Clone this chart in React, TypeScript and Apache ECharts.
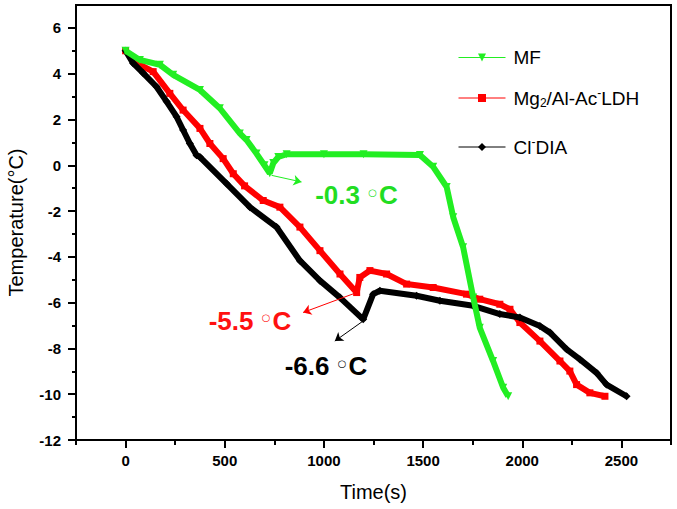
import React, { useEffect, useRef } from "react";
import * as echarts from "echarts";

// ---- data ----
const mfTime = [0, 72, 173, 240, 375, 475, 576, 610, 660, 700, 727, 745, 770, 812, 1000, 1200, 1484, 1551, 1619, 1652, 1702, 1753, 1786, 1853, 1904, 1929];
const mfTemp = [5, 4.6, 4.39, 3.95, 3.29, 2.49, 1.39, 1.1, 0.51, 0.0, -0.35, 0.1, 0.36, 0.48, 0.48, 0.48, 0.45, -0.07, -0.95, -2.27, -3.58, -5.78, -7.1, -8.55, -9.72, -10.09];

const ldhTime = [0, 72, 139, 223, 290, 375, 425, 492, 543, 600, 694, 778, 879, 980, 1081, 1165, 1181, 1232, 1316, 1417, 1551, 1719, 1786, 1887, 1938, 1988, 2089, 2190, 2240, 2274, 2341, 2417];
const ldhTemp = [5, 4.39, 4.09, 3.14, 2.41, 1.61, 0.95, 0.29, -0.37, -0.9, -1.54, -1.83, -2.7, -3.73, -4.75, -5.56, -4.9, -4.6, -4.75, -5.19, -5.34, -5.63, -5.85, -6.07, -6.29, -6.87, -7.68, -8.55, -8.99, -9.58, -9.94, -10.09];

const diaTime = [0, 38, 89, 156, 207, 257, 290, 324, 358, 375, 509, 627, 761, 879, 980, 1081, 1198, 1248, 1282, 1467, 1585, 1753, 1887, 1988, 2089, 2140, 2224, 2291, 2375, 2425, 2526];
const diaTemp = [5, 4.46, 4.02, 3.43, 2.78, 2.12, 1.54, 0.95, 0.44, 0.36, -0.8, -1.83, -2.7, -4.17, -5.04, -5.78, -6.73, -5.63, -5.48, -5.7, -5.92, -6.14, -6.5, -6.65, -7.02, -7.31, -8.04, -8.48, -9.07, -9.58, -10.09];

const seriesNames = ["MF", "Mg2/Al-Ac-LDH", "Cl-DIA"];

const xMajorTicks = [0, 500, 1000, 1500, 2000, 2500];
const xMinorTicks = [-250, 250, 750, 1250, 1750, 2250, 2750];
const yMajorTicks = [-12, -10, -8, -6, -4, -2, 0, 2, 4, 6];
const yMinorTicks = [-11, -9, -7, -5, -3, -1, 1, 3, 5];

// annotation labels (value text, label centre, arrow start, arrow end) in data units
const annoText = ["-0.3", "-5.5", "-6.6"];
const annoAt = [[1164, -1.32], [627, -6.8], [1010, -8.77]];
const annoFrom = [[736, -0.44], [1165, -5.56], [1198, -6.8]];
const annoTo = [[887, -0.73], [895, -6.43], [1055, -7.68]];

const colors = ["#22ee22", "#ff0000", "#000000"];
const textColors = ["#22dd22", "#ff1111", "#000000"];

const FONT = "'Liberation Sans', Arial, sans-serif";

function zip(a: number[], b: number[]) {
  return a.map((v, i) => [v, b[i]]);
}

export default function App() {
  const ref = useRef<HTMLDivElement>(null);
  useEffect(() => {
    if (!ref.current) return;
    const chart = echarts.init(ref.current, null, { renderer: "svg" });
    const data = [zip(mfTime, mfTemp), zip(ldhTime, ldhTemp), zip(diaTime, diaTemp)];
    const symbols = ["triangle", "rect", "diamond"];
    const symbolSizes = [8, 7, 8];
    const rotates = [180, 0, 0];
    const zs = [4, 2, 3];

    const series: any[] = data.map((d, i) => ({
      name: seriesNames[i],
      type: "line",
      data: d,
      z: zs[i],
      xAxisIndex: 0,
      yAxisIndex: 0,
      symbol: symbols[i],
      symbolSize: symbolSizes[i],
      symbolRotate: rotates[i],
      showSymbol: true,
      lineStyle: { color: colors[i], width: 6 },
      itemStyle: { color: colors[i] },
      markLine: {
        silent: true,
        symbol: ["none", "arrow"],
        symbolSize: 8,
        lineStyle: { color: colors[i], width: 1, type: "solid" },
        label: { show: false },
        data: [[{ coord: annoFrom[i] }, { coord: annoTo[i] }]],
      },
      markPoint: {
        silent: true,
        symbol: "circle",
        symbolSize: 1,
        itemStyle: { color: "rgba(0,0,0,0)" },
        data: [
          {
            coord: annoAt[i],
            label: {
              show: true,
              position: "inside",
              formatter: "{a|" + annoText[i] + " }{d|○}{a|C}",
              rich: {
                a: { fontSize: 26, fontWeight: "bold", color: textColors[i], fontFamily: FONT },
                d: { fontSize: 10, fontWeight: "normal", color: textColors[i], fontFamily: "'DejaVu Sans'", padding: [0, 2, 6, 1] },
              },
            },
          },
        ],
      },
    }));

    const legendCommon = {
      orient: "vertical",
      left: 453,
      itemWidth: 47,
      itemHeight: 10,
      lineStyle: { width: 1 },
      textStyle: {
        fontSize: 19,
        fontFamily: FONT,
        color: "#000",
        padding: [0, 0, 0, 3],
        rich: {
          sub: { fontSize: 12, fontFamily: FONT, padding: [10, 0, 0, 0] },
          sup: { fontSize: 12, fontFamily: FONT, padding: [0, 0, 10, 0] },
        },
      },
      formatter: (name: string) => {
        if (name === seriesNames[1]) return "Mg{sub|2}/Al-Ac{sup|-}LDH";
        if (name === seriesNames[2]) return "Cl{sup|-}DIA";
        return name;
      },
    };

    const tickLabel = {
      fontSize: 15,
      fontWeight: "bold",
      fontFamily: FONT,
      color: "#000",
      formatter: (v: number) => String(v),
    };

    chart.setOption({
      animation: false,
      backgroundColor: "#fff",
      grid: {
        left: 76,
        right: 6,
        top: 5,
        bottom: 69,
        show: true,
        borderColor: "#000",
        borderWidth: 2,
        containLabel: false,
        outerBoundsMode: "none",
      },
      legend: [
        { ...legendCommon, data: [seriesNames[0]], top: 43 },
        { ...legendCommon, data: [seriesNames[1]], top: 82 },
        { ...legendCommon, data: [seriesNames[2]], top: 131 },
      ],
      xAxis: [
        {
          type: "value",
          min: -250,
          max: 2750,
          position: "bottom",
          name: "Time(s)",
          nameLocation: "middle",
          nameGap: 42,
          nameTextStyle: { fontSize: 20, fontFamily: FONT, color: "#000" },
          axisLine: { show: true, onZero: false, lineStyle: { color: "#000", width: 2 } },
          axisTick: { show: true, length: 8, lineStyle: { color: "#000", width: 2 }, customValues: xMajorTicks },
          axisLabel: { ...tickLabel, show: true, customValues: xMajorTicks, margin: 13 },
          splitLine: { show: false },
        },
        {
          type: "value",
          min: -250,
          max: 2750,
          position: "bottom",
          axisLine: { show: false, onZero: false },
          axisTick: { show: true, length: 5, lineStyle: { color: "#000", width: 2 }, customValues: xMinorTicks },
          axisLabel: { show: false },
          splitLine: { show: false },
        },
      ],
      yAxis: [
        {
          type: "value",
          min: -12,
          max: 7,
          position: "left",
          name: "Temperature(°C)",
          nameLocation: "middle",
          nameGap: 50,
          nameTextStyle: { fontSize: 20, fontFamily: FONT, color: "#000" },
          axisLine: { show: true, onZero: false, lineStyle: { color: "#000", width: 2 } },
          axisTick: { show: true, length: 8, lineStyle: { color: "#000", width: 2 }, customValues: yMajorTicks },
          axisLabel: { ...tickLabel, customValues: yMajorTicks, margin: 15 },
          splitLine: { show: false },
        },
        {
          type: "value",
          min: -12,
          max: 7,
          position: "left",
          axisLine: { show: false, onZero: false },
          axisTick: { show: true, length: 4, lineStyle: { color: "#000", width: 2 }, customValues: yMinorTicks },
          axisLabel: { show: false },
          splitLine: { show: false },
        },
      ],
      series,
    });
    return () => chart.dispose();
  }, []);
  return <div ref={ref} style={{ position: "absolute", left: 0, top: 0, width: 677, height: 509 }} />;
}
